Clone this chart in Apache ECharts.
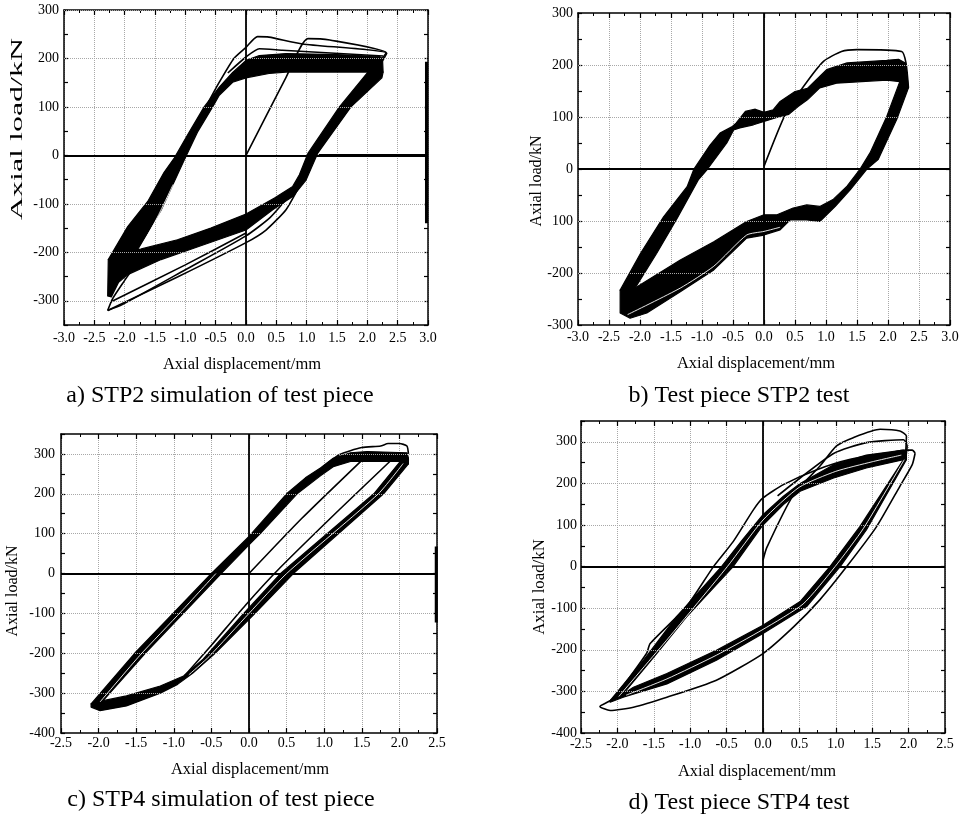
<!DOCTYPE html>
<html>
<head>
<meta charset="utf-8">
<title>Axial load - displacement hysteresis curves</title>
<script src="https://cdn.jsdelivr.net/npm/echarts@6/dist/echarts.min.js"></script>
<style>
  html, body { margin: 0; padding: 0; background: #fff; }
  #chart { width: 964px; height: 819px; }
</style>
</head>
<body>
<div id="chart"></div>
<script>
// ---------- values ----------
// y grid lines (0 is drawn as the solid zero line)
const aYGrid = [-300, -200, -100, 100, 200, 300];
const bYGrid = [-200, -100, 100, 200];
const cYGrid = [-300, -200, -100, 100, 200, 300];
const dYGrid = [-300, -200, -100, 100, 200, 300];
// panel b prints "100" for -100
const bYValues = [-300, -200, -100, 0, 100, 200, 300];
const bYLabels = ['-300', '-200', '100', '0', '100', '200', '300'];

// a) STP2 simulation : dense band of cycles (outer edge then inner edge)
const aBandUpper = [
  [-2.27, -215], [-1.95, -147], [-1.62, -95], [-1.35, -35], [-1.18, -5], [-0.95, 45], [-0.69, 100],
  [-0.44, 141], [-0.22, 171], [0, 196], [0.22, 206], [0.66, 210], [1.5, 208], [2.2, 204], [2.25, 200], [2.26, 172],
  [2.01, 172], [0.66, 172], [0.38, 169], [0, 160], [-0.22, 151], [-0.44, 124], [-0.55, 100], [-0.8, 48],
  [-1.02, -10], [-1.4, -113], [-1.79, -195]
];
const aBandLower = [
  [2.26, 172], [2.24, 160], [1.73, 100], [1.18, 4], [0.99, -51], [0.77, -85], [0.44, -112], [0, -154],
  [-0.85, -191], [-1.4, -215], [-1.95, -246], [-2.1, -262], [-2.22, -292], [-2.28, -290], [-2.27, -215],
  [-1.79, -195], [-1.13, -174], [-0.58, -150], [0, -121], [0.47, -88], [0.77, -64], [0.88, -40], [1.02, 4],
  [1.54, 100], [2.01, 172]
];
const aLoad = [[0, 0], [0.66, 161], [1.02, 241], [1.38, 238], [2.31, 212], [2.24, 199]];
const aCyc2 = [[-0.62, 110], [-0.44, 151], [-0.2, 200], [0, 223], [0.19, 245], [0.38, 244], [0.93, 230], [2.32, 211], [2.25, 195]];
const aCyc3 = [[-0.3, 170], [0, 203], [0.22, 220], [0.6, 217], [2.26, 205]];
const aLow1 = [[-2.28, -320], [-1.13, -251], [0, -180], [0.33, -154], [0.66, -112], [0.88, -64], [1.05, -30]];
const aLow2 = [[-2.28, -320], [-2.04, -308], [-1.0, -236], [0, -166], [0.4, -128], [0.8, -70]];
const aLow3 = [[-2.24, -303], [-1.0, -226], [0, -160]];
const aTip = [[-2.28, -320], [-2.2, -296], [-2.0, -258], [-1.85, -230]];
const aWhite = [[-1.74, -192], [-1.45, -125], [-1.2, -60]];
const aEdge = [[2.975, -140], [2.975, 193]];
const aZeroRight = [[1.2, 0], [3, 0]];

// b) STP2 test
const bBandUpper = [
  [-2.32, -233], [-1.99, -162], [-1.62, -92], [-1.24, -34], [-1.13, 0], [-0.87, 46], [-0.71, 69], [-0.52, 81],
  [-0.45, 88], [-0.3, 111], [-0.14, 115], [0, 109], [0.15, 114], [0.26, 130], [0.5, 149], [0.7, 155],
  [1.01, 191], [1.34, 204], [1.98, 209], [2.17, 211], [2.28, 204], [2.33, 156],
  [2.19, 168], [1.98, 171], [1.17, 165], [0.9, 156], [0.7, 133], [0.55, 120], [0.4, 105], [0.26, 101],
  [0, 91.5], [-0.17, 85], [-0.39, 79], [-0.49, 75], [-0.6, 50], [-0.91, 0], [-1.06, -21], [-1.4, -94.5],
  [-1.73, -162], [-2.08, -229]
];
const bBandLower = [
  [2.33, 156], [2.14, 95], [1.84, 18], [1.66, 0], [1.39, -40], [1.15, -72], [0.9, -101], [0.69, -98],
  [0.42, -98], [0.26, -117], [0, -127], [-0.28, -133], [-0.81, -194], [-1.35, -236], [-1.89, -277],
  [-2.16, -287], [-2.32, -277], [-2.32, -233],
  [-2.08, -229], [-1.35, -175], [-0.81, -140], [-0.28, -101], [0, -88], [0.21, -88], [0.47, -75],
  [0.69, -69], [0.9, -72], [1.12, -58], [1.34, -33], [1.55, 0], [1.71, 31], [1.98, 101], [2.19, 168]
];
const bLoad = [[0, 5], [0.34, 104], [0.64, 159], [0.96, 207], [1.25, 226], [1.5, 229.5], [2.22, 226], [2.29, 204], [2.33, 156]];
const bWhite = [[-2.2, -280], [-1.35, -229], [-0.81, -187], [-0.28, -127], [0, -120], [0.26, -112]];

// c) STP4 simulation
const cBandUpper = [
  [-2.1, -327], [-1.52, -200], [-1.0, -98], [-0.5, 0], [0, 93], [0.5, 200], [0.75, 240], [0.95, 265],
  [1.12, 289], [1.35, 303], [1.57, 306], [2.1, 303], [2.12, 290], [2.12, 275],
  [2.01, 281], [1.35, 281], [1.12, 268], [0.95, 245], [0.64, 200], [0.15, 100], [0, 72], [-0.37, 0],
  [-1.38, -200], [-1.94, -319]
];
const cBandLower = [
  [2.12, 275], [1.79, 200], [0.59, 0], [0.08, -100], [-0.45, -200], [-0.75, -250], [-0.95, -278],
  [-1.18, -300], [-1.63, -332], [-1.98, -344], [-2.1, -335], [-2.1, -327],
  [-1.94, -319], [-1.63, -307], [-1.18, -282], [-0.87, -257], [-0.61, -215], [-0.07, -100], [0.42, 0],
  [1.66, 200], [2.01, 281]
];
const cLoad = [[0, 0], [0.7, 138], [1.5, 284]];
const cTop = [[0.95, 262], [1.2, 298], [1.5, 316], [1.75, 320], [1.85, 326], [2.0, 326], [2.1, 320], [2.12, 300]];
const cThin = [[1.9, 286], [1.2, 160], [0.4, 12], [-0.05, -80], [-0.5, -180], [-0.85, -255]];
const cWhite1 = [[-1.98, -322], [-1.45, -205], [-0.9, -95], [-0.44, 0]];
const cWhite2 = [[2.05, 276], [1.72, 200], [0.5, 0], [0, -100], [-0.53, -208], [-0.8, -254]];
const cEdge = [[2.49, -123], [2.49, 68]];

// d) STP4 test
const dBandUpper = [
  [-2.1, -322], [-1.64, -225], [-1.19, -121], [-0.57, 0], [-0.28, 65], [0, 125], [0.28, 169], [0.51, 200],
  [0.97, 245], [1.42, 268], [1.93, 280], [1.97, 275], [1.97, 257],
  [1.93, 257], [1.42, 237], [0.97, 213], [0.51, 181], [0.28, 149], [0, 100], [-0.41, 0], [-1.05, -121],
  [-1.46, -209], [-1.92, -306]
];
const dBandLower = [
  [1.97, 257], [1.42, 88], [1.06, 0], [0.6, -96], [0, -161], [-0.64, -225], [-1.32, -282], [-1.92, -314],
  [-2.1, -326], [-2.1, -322],
  [-1.92, -306], [-1.78, -290], [-1.32, -257], [-0.64, -201], [0, -141], [0.51, -84], [0.92, 0], [1.33, 96],
  [1.93, 257]
];
const dLoad = [[0, 15], [0.05, 45], [0.42, 173], [0.78, 241], [1.01, 290], [1.24, 310], [1.61, 330], [1.88, 326], [1.97, 314], [1.96, 273]];
const dLoop2 = [[0.2, 170], [0.51, 213], [0.97, 272], [1.42, 298], [1.93, 305], [1.98, 290], [1.96, 260]];
const dOuter = [
  [2.09, 273], [2.05, 245], [1.88, 193], [1.56, 96], [1.15, 0], [0.78, -80], [0.42, -145], [0, -209],
  [-0.64, -273], [-1.32, -314], [-1.78, -338], [-2.1, -346], [-2.24, -336], [-2.06, -318], [-1.6, -209],
  [-1.55, -185], [-1.05, -96], [-0.68, 0], [-0.41, 60], [-0.13, 137], [0, 165], [0.28, 197], [0.74, 233],
  [1.2, 258], [1.7, 272], [1.96, 280], [2.05, 280], [2.09, 273]
];
const dWhite1 = [[-1.98, -312], [-1.3, -172], [-0.49, 0], [0, 112], [0.5, 191], [1.0, 229], [1.5, 252], [1.9, 268]];
const dWhite2 = [[1.94, 257], [1.38, 92], [0.99, 0], [0.55, -90], [0, -151], [-0.64, -213], [-1.32, -270], [-1.88, -309]];

// ---------- layout ----------
const FONT = '"Liberation Serif", "Times New Roman", serif';

const panels = [
  {
    grid: { left: 64, top: 10, width: 364, height: 315 }, x: [-3, 3], y: [-350, 300], yGrid: aYGrid,
    polys: [aBandUpper, aBandLower], lines: [aLoad, aCyc2, aCyc3, aLow1, aLow2, aLow3, aTip],
    marks: [aEdge, aZeroRight], white: [aWhite],
    caption: 'a) STP2 simulation of test piece', cap: [220, 396],
    yName: [18, 129, 2.0], xName: [242, 365], xm: 6, ym: 5
  },
  {
    grid: { left: 578, top: 13, width: 372, height: 312 }, x: [-3, 3], y: [-300, 300], yGrid: bYGrid,
    polys: [bBandUpper, bBandLower], lines: [bLoad], marks: [], white: [bWhite],
    caption: 'b) Test piece STP2 test', cap: [739, 396],
    yName: [537, 181, 1], xName: [756, 364], xm: 5, ym: 5,
    yFmt: v => { const i = bYValues.indexOf(v); return i >= 0 ? bYLabels[i] : ''; }
  },
  {
    grid: { left: 61, top: 434, width: 376, height: 299 }, x: [-2.5, 2.5], y: [-400, 350], yGrid: cYGrid,
    polys: [cBandUpper, cBandLower], lines: [cLoad, cTop, cThin], marks: [cEdge], white: [cWhite1, cWhite2],
    caption: 'c) STP4 simulation of test piece', cap: [221, 800],
    yName: [13, 591, 1], xName: [250, 770], xm: 3, ym: 6
  },
  {
    grid: { left: 581, top: 421, width: 364, height: 312 }, x: [-2.5, 2.5], y: [-400, 350], yGrid: dYGrid,
    polys: [dBandUpper, dBandLower], lines: [dLoad, dLoop2, dOuter], marks: [], white: [dWhite1, dWhite2],
    caption: 'd) Test piece STP4 test', cap: [739, 803],
    yName: [540, 587, 1.05], xName: [757, 772], xm: 4, ym: 4
  }
];

const grids = [], xAxes = [], yAxes = [], series = [], graphics = [];

const black = { color: '#000', width: 1.5 };

panels.forEach((p, i) => {
  grids.push(Object.assign({ containLabel: false }, p.grid));

  const xCommon = {
    type: 'value', gridIndex: i, min: p.x[0], max: p.x[1], interval: 0.5,
    axisLine: { show: true, onZero: false, lineStyle: black },
    axisTick: { show: true, inside: true, length: 5, lineStyle: { color: '#000', width: 1.2 } },
    minorTick: { show: true, splitNumber: 2, length: 3, lineStyle: { color: '#000', width: 1 } }
  };
  xAxes.push(Object.assign({}, xCommon, {
    position: 'bottom',
    axisLabel: {
      show: true, margin: p.xm, color: '#000', fontFamily: FONT, fontSize: 14,
      showMinLabel: true, showMaxLabel: true, formatter: v => v.toFixed(1)
    },
    splitLine: { show: true, lineStyle: { color: '#a8a8a8', type: 'dotted', width: 1 } }
  }));
  xAxes.push(Object.assign({}, xCommon, {
    position: 'top', axisLabel: { show: false }, splitLine: { show: false }
  }));

  const yCommon = {
    type: 'value', gridIndex: i, min: p.y[0], max: p.y[1], interval: 50,
    axisLine: { show: true, onZero: false, lineStyle: black },
    axisTick: { show: true, inside: true, length: 4, lineStyle: { color: '#000', width: 1.2 } },
    splitLine: { show: false }
  };
  yAxes.push(Object.assign({}, yCommon, {
    position: 'left',
    axisLabel: {
      show: true, margin: p.ym, color: '#000', fontFamily: FONT, fontSize: 14,
      showMinLabel: true, showMaxLabel: true,
      formatter: p.yFmt || (v => (v % 100 === 0 ? String(v) : ''))
    }
  }));
  yAxes.push(Object.assign({}, yCommon, { position: 'right', axisLabel: { show: false } }));

  const xi = 2 * i, yi = 2 * i;

  // dotted y grid + solid zero lines
  series.push({
    type: 'line', xAxisIndex: xi, yAxisIndex: yi, data: [[0, 0]], z: 1,
    symbol: 'none', lineStyle: { opacity: 0 }, silent: true,
    markLine: {
      silent: true, symbol: ['none', 'none'], label: { show: false }, animation: false,
      lineStyle: { color: '#a8a8a8', type: 'dotted', width: 1 },
      data: p.yGrid.map(v => ({ yAxis: v })).concat([
        { xAxis: 0, lineStyle: { color: '#000', type: 'solid', width: 1.8 } },
        { yAxis: 0, lineStyle: { color: '#000', type: 'solid', width: 1.8 } }
      ])
    }
  });

  // dense bands of cycles
  p.polys.forEach(pts => {
    series.push({
      type: 'custom', xAxisIndex: xi, yAxisIndex: yi, data: pts, z: 3, silent: true,
      renderItem: (params, api) => {
        if (params.dataIndex !== 0) return null;
        return {
          type: 'polygon',
          shape: { points: pts.map(pt => api.coord(pt)) },
          style: { fill: '#000', stroke: '#000', lineWidth: 1.2, lineJoin: 'round' }
        };
      }
    });
  });

  // individual cycle curves
  p.lines.forEach(pts => {
    series.push({
      type: 'line', xAxisIndex: xi, yAxisIndex: yi, data: pts, z: 4, silent: true,
      symbol: 'none', smooth: 0.2, lineStyle: { color: '#000', width: 1.6 }
    });
  });
  p.white.forEach(pts => {
    series.push({
      type: 'line', xAxisIndex: xi, yAxisIndex: yi, data: pts, z: 5, silent: true,
      symbol: 'none', smooth: 0.2, lineStyle: { color: '#fff', width: 0.9 }
    });
  });
  p.marks.forEach(pts => {
    series.push({
      type: 'line', xAxisIndex: xi, yAxisIndex: yi, data: pts, z: 5, silent: true,
      symbol: 'none', lineStyle: { color: '#000', width: 3 }
    });
  });

  // captions and axis titles
  graphics.push({
    type: 'text', x: p.cap[0], y: p.cap[1], silent: true,
    style: { text: p.caption, font: '24px ' + FONT, fill: '#000', textAlign: 'center', textVerticalAlign: 'middle' }
  });
  graphics.push({
    type: 'text', x: p.xName[0], y: p.xName[1], silent: true,
    style: { text: 'Axial displacement/mm', font: '16.5px ' + FONT, fill: '#000', textAlign: 'center', textVerticalAlign: 'middle' }
  });
  graphics.push({
    type: 'text', x: p.yName[0], y: p.yName[1], rotation: Math.PI / 2, scaleX: p.yName[2], silent: true,
    style: { text: 'Axial load/kN', font: '16px ' + FONT, fill: '#000', textAlign: 'center', textVerticalAlign: 'middle' }
  });
});

const chart = echarts.init(document.getElementById('chart'), null, { renderer: 'canvas' });
chart.setOption({
  animation: false,
  backgroundColor: '#fff',
  grid: grids,
  xAxis: xAxes,
  yAxis: yAxes,
  series: series,
  graphic: graphics
});
window.addEventListener('resize', () => chart.resize());
</script>
</body>
</html>
